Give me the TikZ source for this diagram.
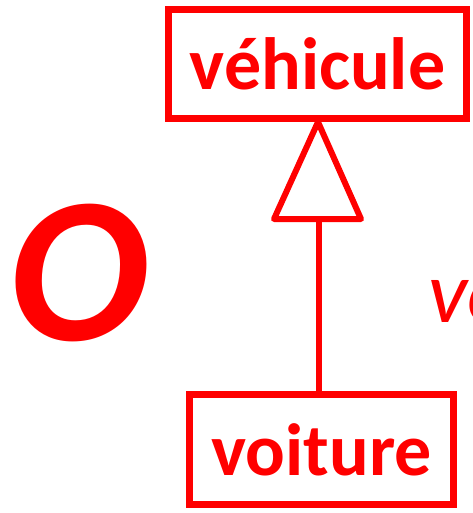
\documentclass[tikz,border=0pt]{standalone}
\usepackage{fontspec}
\setmainfont{Carlito}
\begin{document}
\begin{tikzpicture}[x=1pt,y=-1pt,
  classbox/.style={draw=red,line width=7pt,inner sep=0pt,minimum height=109pt,
    text=red,font=\fontsize{74}{74}\selectfont\bfseries},
  link/.style={draw=red,line width=6pt}]
  \useasboundingbox (0,0) rectangle (472,513);
  \node[classbox,minimum width=298pt] (vehicule) at (317.5,64) {véhicule};
  \node[classbox,minimum width=264pt,minimum height=110pt] (voiture) at (321.5,449.5) {voiture};
  % hollow inheritance triangle
  \coordinate (apex) at (318,122);
  \coordinate (bl) at (274,219);
  \coordinate (br) at (361,219);
  \coordinate (basemid) at (319,219);
  \draw[link,line join=round] (apex) -- (bl) -- (br) -- cycle;
  \draw[link] (basemid) -- (voiture.north -| basemid);
  \node[text=red,font=\fontsize{208}{208}\selectfont\bfseries\itshape,inner sep=0pt,anchor=base west] (bigO) at (9,340) {O};
  \node[text=red,font=\fontsize{88}{88}\selectfont\itshape,inner sep=0pt,anchor=base west] (vo) at (428,322) {vo};
\end{tikzpicture}
\end{document}
